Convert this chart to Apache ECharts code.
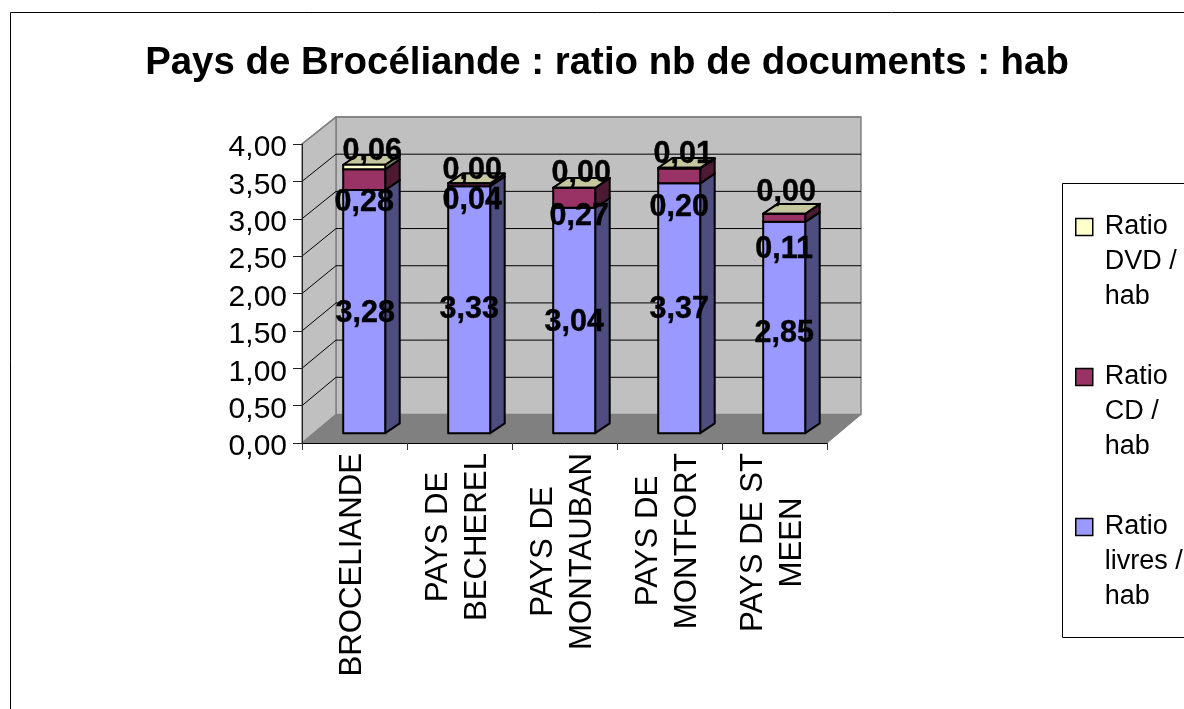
<!DOCTYPE html>
<html><head><meta charset="utf-8">
<style>html,body{margin:0;padding:0;background:#fff}#c{width:1184px;height:709px}</style>
<script src="https://cdn.jsdelivr.net/npm/echarts@6/dist/echarts.min.js"></script>
</head><body><div id="c"></div>
<script>
const categories = ['BROCELIANDE','PAYS DE\nBECHEREL','PAYS DE\nMONTAUBAN','PAYS DE\nMONTFORT','PAYS DE ST\nMEEN'];
const ratioLivres = [3.28,3.33,3.04,3.37,2.85];
const ratioCD = [0.28,0.04,0.27,0.20,0.11];
const ratioDVD = [0.06,0.00,0.00,0.01,0.00];
const yTicks = [0,0.5,1,1.5,2,2.5,3,3.5,4];
const nameLivres = 'Ratio livres / hab', nameCD = 'Ratio CD / hab', nameDVD = 'Ratio DVD / hab';
const legendWrapped = {[nameDVD]:'\n\nRatio\nDVD /\nhab',[nameCD]:'\n\nRatio\nCD /\nhab',[nameLivres]:'\n\nRatio\nlivres /\nhab'};

// label placement relative to the middle of each segment (layout only)
const labelShift = {
  livres:[[1,2],[0,0],[0,2],[0,1],[0,6]],
  cd:[[0,23],[3,16],[5,19],[0,32],[0,32]],
  dvd:[[8,-15],[3,-13],[7,-14],[4,-14],[2,-21]]
};
const FONT = '"Liberation Sans",Arial,sans-serif';
const wallD = [34,-28.5], barD = [14.5,-9.8], barO = [9.7,-9.8], depthScale = 0.992, wallScale = 0.995;

function shade(c,k){const n=parseInt(c.slice(1),16);return 'rgb('+[(n>>16)&255,(n>>8)&255,n&255].map(v=>Math.round(v*k)).join(',')+')';}

function renderWalls(params, api){
  const g = params.coordSys, x0=g.x, x1=g.x+g.width, yB=api.coord([0,0])[1];
  const [dx,dy]=wallD;
  const yAt=v=>yB+(api.coord([0,v])[1]-yB);
  const yBack=v=>yB+dy+(api.coord([0,v])[1]-yB)*wallScale;
  const wallStyle={fill:'#c0c0c0',stroke:'#808080',lineWidth:1.5};
  const kids=[
    {type:'polygon',shape:{points:[[x0+dx,yBack(0)],[x1+dx,yBack(0)],[x1+dx,yBack(4)],[x0+dx,yBack(4)]]},style:wallStyle},
    {type:'polygon',shape:{points:[[x0,yB],[x0+dx,yBack(0)],[x0+dx,yBack(4)],[x0,yAt(4)]]},style:wallStyle},
    {type:'polygon',shape:{points:[[x0,yB],[x1,yB],[x1+dx,yBack(0)],[x0+dx,yBack(0)]]},style:{fill:'#808080',stroke:'#808080',lineWidth:1}}
  ];
  yTicks.filter(v=>v>0&&v<4).forEach(v=>{
    kids.push({type:'polyline',shape:{points:[[x0,yAt(v)],[x0+dx,yBack(v)],[x1+dx,yBack(v)]]},style:{fill:null,stroke:'#000',lineWidth:1}});
  });
  kids.push({type:'polyline',shape:{points:[[x0,yAt(4)],[x0+dx,yBack(4)],[x1+dx,yBack(4)]]},style:{fill:null,stroke:'#808080',lineWidth:1.5}});
  return {type:'group',children:kids};
}

function makeSegment(color, shifts){
  return function(params, api){
    const i=api.value(0), v=api.value(1), base=api.value(2);
    const c0=api.coord([i,0]), w=api.size([1,0])[0]*0.4;
    const project=t=>c0[1]+barO[1]+(api.coord([i,t])[1]-c0[1])*depthScale;
    const xL=c0[0]+barO[0]-w/2, xR=xL+w;
    const yB=project(base), yT=project(base+v);
    const [dx,dy]=barD;
    const edge={stroke:'#000',lineWidth:2,lineJoin:'round'};
    const kids=[
      {type:'polygon',shape:{points:[[xR,yB],[xR+dx,yB+dy],[xR+dx,yT+dy],[xR,yT]]},style:{fill:shade(color,0.5),...edge}},
      {type:'polygon',shape:{points:[[xL,yT],[xR,yT],[xR+dx,yT+dy],[xL+dx,yT+dy]]},style:{fill:shade(color,0.78),...edge}},
      {type:'polygon',shape:{points:[[xL,yB],[xR,yB],[xR,yT],[xL,yT]]},style:{fill:color,...edge}},
      {type:'text',z2:100,style:{text:v.toFixed(2).replace('.',','),x:(xL+xR)/2+shifts[i][0],y:(yB+yT)/2+shifts[i][1],
        align:'center',verticalAlign:'middle',font:'bold 30.5px '+FONT,fill:'#000',stroke:'#000',lineWidth:0.4}}
    ];
    return {type:'group',children:kids};
  };
}

const baseCD = ratioLivres.slice();
const baseDVD = ratioLivres.map((v,i)=>v+ratioCD[i]);
const chart = echarts.init(document.getElementById('c'),null,{renderer:'canvas'});
chart.setOption({
  animation:false,
  backgroundColor:'#fff',
  title:{text:'Pays de Brocéliande : ratio nb de documents : hab',left:602,top:39,textAlign:'center',
    textStyle:{fontFamily:FONT,fontWeight:'bold',fontSize:38.4,color:'#000'}},
  grid:{left:302,right:357,top:144,bottom:266,containLabel:false},
  graphic:[
    {type:'rect',silent:true,shape:{x:10.5,y:12.5,width:1300,height:900},style:{fill:null,stroke:'#000',lineWidth:1}},
    {type:'rect',silent:true,shape:{x:1062.5,y:183.5,width:300,height:454},style:{fill:null,stroke:'#000',lineWidth:1}}
  ],
  legend:{orient:'vertical',left:1070,top:135,data:[nameDVD,nameCD,nameLivres],selectedMode:false,
    icon:'rect',itemWidth:17,itemHeight:17,itemGap:-24,
    itemStyle:{borderColor:'#000',borderWidth:1.5},
    formatter:n=>legendWrapped[n],
    textStyle:{fontFamily:FONT,fontSize:27,color:'#000',lineHeight:34.8,padding:[0,0,0,7]}},
  xAxis:{type:'category',data:categories,z:5,
    axisLine:{show:true,lineStyle:{color:'#000',width:1}},
    axisTick:{show:true,alignWithLabel:false,length:7,lineStyle:{color:'#333',width:1}},
    axisLabel:{rotate:90,interval:0,margin:10,padding:[0,0,4,0],color:'#000',hideOverlap:false,
      formatter:v=>v.split('\n').map(s=>'{c|'+s+'}').join('\n'),
      rich:{c:{align:'center',fontFamily:FONT,fontSize:31.2,lineHeight:39,color:'#000'}}}},
  yAxis:{type:'value',min:0,max:4,interval:0.5,z:5,
    axisLine:{show:true,lineStyle:{color:'#222',width:1}},
    axisTick:{show:true,length:9,lineStyle:{color:'#222',width:1}},
    splitLine:{show:false},
    axisLabel:{margin:15,padding:[8,0,0,0],color:'#000',
      formatter:v=>'{v|'+v.toFixed(2).replace('.',',')+'}',
      rich:{v:{fontFamily:FONT,fontSize:30,color:'#000'}}}},
  series:[
    {type:'custom',name:'walls',silent:true,z:1,data:[[0,0]],renderItem:renderWalls,encode:{x:0,y:1}},
    {type:'custom',name:nameLivres,silent:true,z:2,itemStyle:{color:'#9999ff'},encode:{x:0,y:1},
      data:ratioLivres.map((v,i)=>[i,v,0]),renderItem:makeSegment('#9999ff',labelShift.livres)},
    {type:'custom',name:nameCD,silent:true,z:3,itemStyle:{color:'#993366'},encode:{x:0,y:1},
      data:ratioCD.map((v,i)=>[i,v,baseCD[i]]),renderItem:makeSegment('#993366',labelShift.cd)},
    {type:'custom',name:nameDVD,silent:true,z:4,itemStyle:{color:'#ffffcc'},encode:{x:0,y:1},
      data:ratioDVD.map((v,i)=>[i,v,baseDVD[i]]),renderItem:makeSegment('#ffffcc',labelShift.dvd)}
  ]
});
</script></body></html>
